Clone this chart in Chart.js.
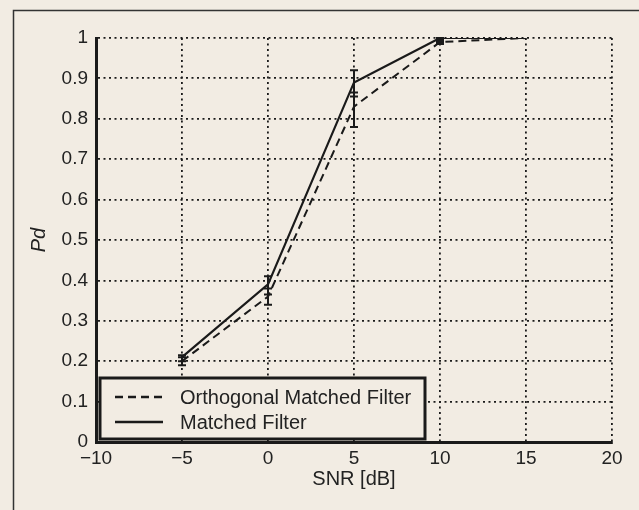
<!DOCTYPE html>
<html>
<head>
<meta charset="utf-8">
<script src="https://cdn.jsdelivr.net/npm/chart.js@4"></script>
<style>
  html, body { margin: 0; padding: 0; background: #f2ece3; }
  #wrap { width: 639px; height: 510px; }
</style>
</head>
<body>
<div id="wrap"><canvas id="pdChart" width="639" height="510"></canvas></div>
<script>
// SNR points (dB)
const snr = [-5, 0, 5, 10, 15];

// Probability of detection
const pdMatched = [0.21, 0.39, 0.89, 1.0, 1.0];
const pdOrthogonal = [0.20, 0.36, 0.83, 0.99, 1.0];

// Error bar ranges (low / high), null = none
const errLowMatched = [0.20, 0.365, 0.855, 0.99, null];
const errHighMatched = [0.215, 0.41, 0.92, 1.0, null];
const errLowOrthogonal = [0.19, 0.34, 0.78, 0.985, null];
const errHighOrthogonal = [0.21, 0.38, 0.865, 0.995, null];

const seriesLabels = ['Orthogonal Matched Filter', 'Matched Filter'];

const bgColor = '#f2ece3';
const inkColor = '#1a1a1a';
const textColor = '#222';
const fontFamily = '"Liberation Sans", Arial, Helvetica, sans-serif';

function toPoints(xs, ys) {
    return xs.map((x, i) => ({ x: x, y: ys[i] }));
}

// Paint page background and the outer frame
const backgroundPlugin = {
    id: 'background',
    beforeDraw(chart) {
        const ctx = chart.ctx;
        ctx.save();
        ctx.fillStyle = bgColor;
        ctx.fillRect(0, 0, chart.width, chart.height);
        ctx.strokeStyle = '#333';
        ctx.lineWidth = 1.5;
        ctx.beginPath();
        ctx.moveTo(13.5, chart.height);
        ctx.lineTo(13.5, 10.5);
        ctx.lineTo(chart.width, 10.5);
        ctx.stroke();
        ctx.restore();
    }
};

// Vertical error bars with caps
const errorBarPlugin = {
    id: 'errorBars',
    afterDatasetsDraw(chart) {
        const ctx = chart.ctx;
        const xScale = chart.scales.x;
        const yScale = chart.scales.y;
        ctx.save();
        ctx.strokeStyle = inkColor;
        ctx.lineWidth = 2;
        chart.data.datasets.forEach(ds => {
            if (!ds.errLow) return;
            ds.data.forEach((p, i) => {
                const lo = ds.errLow[i];
                const hi = ds.errHigh[i];
                if (lo === null || hi === null) return;
                const px = xScale.getPixelForValue(p.x);
                const yLo = yScale.getPixelForValue(lo);
                const yHi = yScale.getPixelForValue(hi);
                ctx.beginPath();
                ctx.moveTo(px, yLo);
                ctx.lineTo(px, yHi);
                ctx.moveTo(px - 4, yLo);
                ctx.lineTo(px + 4, yLo);
                ctx.moveTo(px - 4, yHi);
                ctx.lineTo(px + 4, yHi);
                ctx.stroke();
            });
        });
        ctx.restore();
    }
};

// Boxed legend in the lower left of the plot
const boxLegendPlugin = {
    id: 'boxLegend',
    afterDraw(chart) {
        const ctx = chart.ctx;
        const area = chart.chartArea;
        const left = area.left + 4;
        const top = area.bottom - 64;
        const w = 325;
        const h = 61;
        ctx.save();
        ctx.fillStyle = bgColor;
        ctx.fillRect(left, top, w, h);
        ctx.strokeStyle = inkColor;
        ctx.lineWidth = 3;
        ctx.strokeRect(left, top, w, h);
        ctx.font = '20px ' + fontFamily;
        ctx.textBaseline = 'middle';
        ctx.fillStyle = textColor;
        chart.data.datasets.forEach((ds, i) => {
            const y = top + 19 + i * 25;
            ctx.beginPath();
            ctx.setLineDash(ds.borderDash || []);
            ctx.lineWidth = 2.5;
            ctx.moveTo(left + 15, y);
            ctx.lineTo(left + 63, y);
            ctx.stroke();
            ctx.setLineDash([]);
            ctx.fillText(ds.label, left + 80, y + 1);
        });
        ctx.restore();
    }
};

const ctx = document.getElementById('pdChart').getContext('2d');
new Chart(ctx, {
    type: 'line',
    data: {
        datasets: [
            {
                label: seriesLabels[0],
                data: toPoints(snr, pdOrthogonal),
                errLow: errLowOrthogonal,
                errHigh: errHighOrthogonal,
                borderColor: inkColor,
                borderWidth: 2,
                borderDash: [8, 5],
                pointRadius: 0,
                tension: 0,
                fill: false
            },
            {
                label: seriesLabels[1],
                data: toPoints(snr, pdMatched),
                errLow: errLowMatched,
                errHigh: errHighMatched,
                borderColor: inkColor,
                borderWidth: 2.2,
                pointRadius: 0,
                tension: 0,
                fill: false
            }
        ]
    },
    options: {
        responsive: false,
        animation: false,
        layout: { padding: { top: 38, right: 27, left: 0, bottom: 0 } },
        plugins: {
            legend: { display: false },
            tooltip: { enabled: false }
        },
        scales: {
            x: {
                type: 'linear',
                min: -10,
                max: 20,
                afterFit: scale => { scale.height = 68; },
                ticks: {
                    stepSize: 5,
                    padding: 5,
                    color: textColor,
                    font: { family: fontFamily, size: 19 },
                    callback: v => String(v).replace('-', '\u2212')
                },
                grid: { color: inkColor, lineWidth: 1.8, drawTicks: false },
                border: { display: true, color: inkColor, width: 3, dash: [2, 3.5] },
                title: {
                    display: true,
                    text: 'SNR [dB]',
                    color: textColor,
                    font: { family: fontFamily, size: 20 },
                    padding: { top: 0, bottom: 19 }
                }
            },
            y: {
                type: 'linear',
                min: 0,
                max: 1,
                afterFit: scale => { scale.width = 96; },
                ticks: {
                    stepSize: 0.1,
                    padding: 8,
                    color: textColor,
                    font: { family: fontFamily, size: 19 },
                    callback: v => String(Number(v.toFixed(1)))
                },
                grid: { color: inkColor, lineWidth: 1.8, drawTicks: false },
                border: { display: true, color: inkColor, width: 3, dash: [2, 3.5] },
                title: {
                    display: true,
                    text: 'Pd',
                    color: textColor,
                    font: { family: fontFamily, size: 20, style: 'italic' },
                    padding: { top: 27, bottom: 0 }
                }
            }
        }
    },
    plugins: [backgroundPlugin, errorBarPlugin, boxLegendPlugin]
});
</script>
</body>
</html>
